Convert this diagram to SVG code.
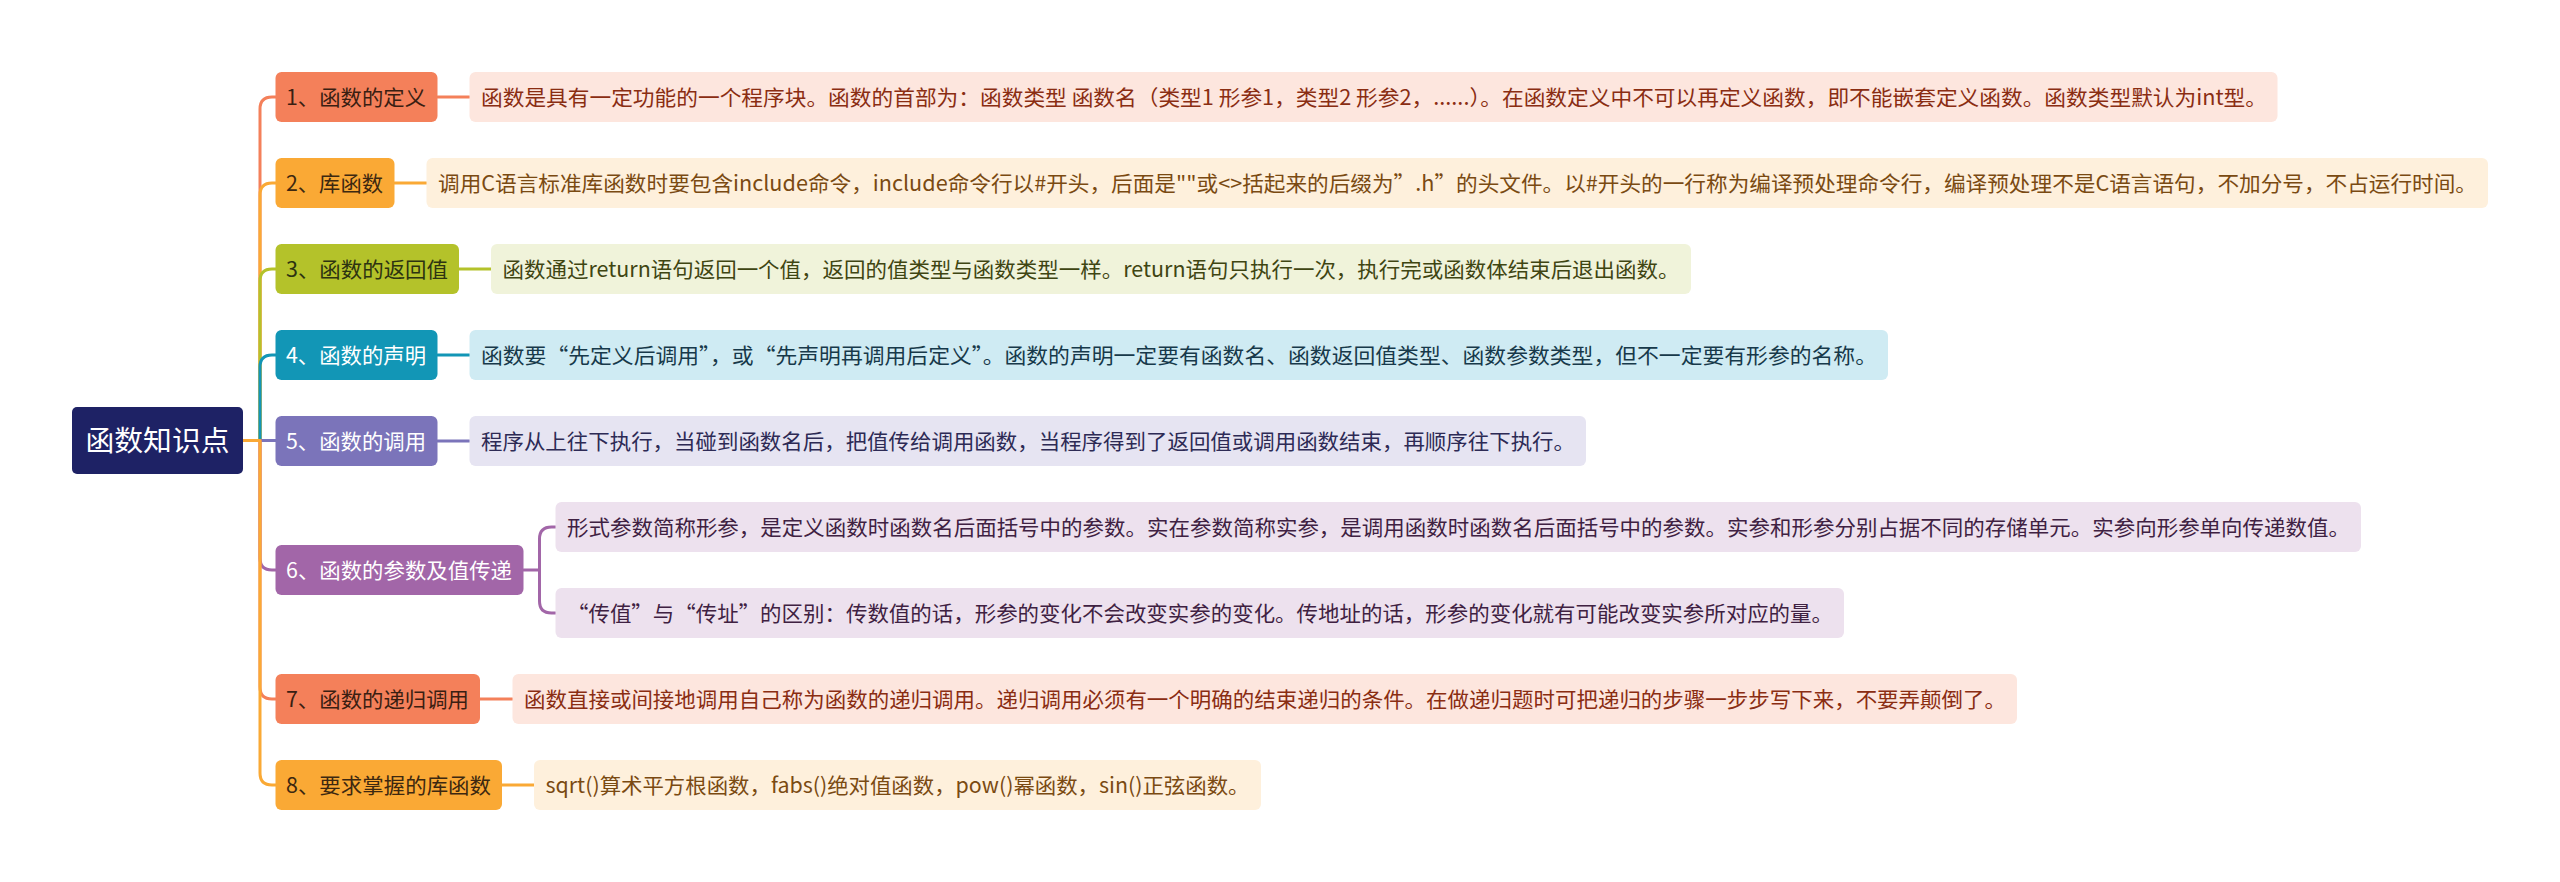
<svg xmlns="http://www.w3.org/2000/svg" width="2560" height="882" viewBox="0 0 2560 882">
<style>
.t{font-family:"Microsoft YaHei","Noto Sans CJK SC","Noto Sans",sans-serif;font-size:21px}
.root{font-family:"Microsoft YaHei","Noto Sans CJK SC","Noto Sans",sans-serif;font-size:28px;fill:#ffffff}
.ln{fill:none;stroke-width:3;stroke-linecap:round;stroke-linejoin:round}
.c1{stroke:#F4805A}.c2{stroke:#FAA935}.c3{stroke:#B4C22A}.c4{stroke:#1296B6}.c5{stroke:#7B74BA}.c6{stroke:#A266A8}
</style>
<rect width="2560" height="882" fill="#ffffff"/>
<g id="connectors">
<path class="ln c1" d="M243,440.5 H260 V109 Q260,97 272,97 H276"/>
<path class="ln c2" d="M243,440.5 H260 V195 Q260,183 272,183 H276"/>
<path class="ln c3" d="M243,440.5 H260 V281 Q260,269 272,269 H276"/>
<path class="ln c4" d="M243,440.5 H260 V367 Q260,355 272,355 H276"/>
<path class="ln c5" d="M243,440.5 H276"/>
<path class="ln c6" d="M243,440.5 H260 V558 Q260,570 272,570 H276"/>
<path class="ln c1" d="M243,440.5 H260 V687 Q260,699 272,699 H276"/>
<path class="ln c2" d="M243,440.5 H260 V773 Q260,785 272,785 H276"/>
<path class="ln c1" d="M437.5,97 H469.5"/>
<path class="ln c2" d="M394.5,183 H426.5"/>
<path class="ln c3" d="M459,269 H491"/>
<path class="ln c4" d="M437.5,355 H469.5"/>
<path class="ln c5" d="M437.5,441 H469.5"/>
<path class="ln c6" d="M523.5,570 H539.5 M555.5,527 H551.5 Q539.5,527 539.5,539 V601 Q539.5,613 551.5,613 H555.5"/>
<path class="ln c1" d="M480,699 H512.5"/>
<path class="ln c2" d="M502,785 H534"/>
</g>
<g id="root">
<rect x="72" y="407" width="171" height="67" rx="5" fill="#1E2265"/>
<text class="root" x="157.5" y="451" text-anchor="middle" textLength="144" lengthAdjust="spacingAndGlyphs">函数知识点</text>
</g>
<g id="n1">
<rect x="275.5" y="72" width="162" height="50" rx="6" fill="#F4805A"/>
<text class="t" x="286" y="105" fill="#3A1E12" textLength="140" lengthAdjust="spacingAndGlyphs">1、函数的定义</text>
</g>
<g id="d1">
<rect x="469.5" y="72" width="1808" height="50" rx="6" fill="#FDE6DE"/>
<text class="t" x="481" y="105" fill="#8A2D12" textLength="1786" lengthAdjust="spacingAndGlyphs">函数是具有一定功能的一个程序块。函数的首部为：函数类型 函数名（类型1 形参1，类型2 形参2，......）。在函数定义中不可以再定义函数，即不能嵌套定义函数。函数类型默认为int型。</text>
</g>
<g id="n2">
<rect x="275.5" y="158" width="119" height="50" rx="6" fill="#FAA935"/>
<text class="t" x="286" y="191" fill="#3D2810" textLength="97" lengthAdjust="spacingAndGlyphs">2、库函数</text>
</g>
<g id="d2">
<rect x="426.5" y="158" width="2061.5" height="50" rx="6" fill="#FEF0DC"/>
<text class="t" x="438" y="191" fill="#7A4A12" textLength="2039" lengthAdjust="spacingAndGlyphs">调用C语言标准库函数时要包含include命令，include命令行以#开头，后面是""或&lt;&gt;括起来的后缀为”.h”的头文件。以#开头的一行称为编译预处理命令行，编译预处理不是C语言语句，不加分号，不占运行时间。</text>
</g>
<g id="n3">
<rect x="275.5" y="244" width="183.5" height="50" rx="6" fill="#B4C22A"/>
<text class="t" x="286" y="277" fill="#2D3311" textLength="162" lengthAdjust="spacingAndGlyphs">3、函数的返回值</text>
</g>
<g id="d3">
<rect x="491" y="244" width="1200" height="50" rx="6" fill="#F0F3DA"/>
<text class="t" x="502.5" y="277" fill="#3F4512" textLength="1177" lengthAdjust="spacingAndGlyphs">函数通过return语句返回一个值，返回的值类型与函数类型一样。return语句只执行一次，执行完或函数体结束后退出函数。</text>
</g>
<g id="n4">
<rect x="275.5" y="330" width="162" height="50" rx="6" fill="#1296B6"/>
<text class="t" x="286" y="363" fill="#ffffff" textLength="140" lengthAdjust="spacingAndGlyphs">4、函数的声明</text>
</g>
<g id="d4">
<rect x="469.5" y="330" width="1418.5" height="50" rx="6" fill="#CFEBF3"/>
<text class="t" x="481" y="363" fill="#17394A" textLength="1396" lengthAdjust="spacingAndGlyphs">函数要“先定义后调用”，或“先声明再调用后定义”。函数的声明一定要有函数名、函数返回值类型、函数参数类型，但不一定要有形参的名称。</text>
</g>
<g id="n5">
<rect x="275.5" y="416" width="162" height="50" rx="6" fill="#7B74BA"/>
<text class="t" x="286" y="449" fill="#ffffff" textLength="140" lengthAdjust="spacingAndGlyphs">5、函数的调用</text>
</g>
<g id="d5">
<rect x="469.5" y="416" width="1116.5" height="50" rx="6" fill="#E6E4F2"/>
<text class="t" x="481" y="449" fill="#2D2A55" textLength="1094" lengthAdjust="spacingAndGlyphs">程序从上往下执行，当碰到函数名后，把值传给调用函数，当程序得到了返回值或调用函数结束，再顺序往下执行。</text>
</g>
<g id="n6">
<rect x="275.5" y="545" width="248" height="50" rx="6" fill="#A266A8"/>
<text class="t" x="286" y="578" fill="#ffffff" textLength="226" lengthAdjust="spacingAndGlyphs">6、函数的参数及值传递</text>
</g>
<g id="d6a">
<rect x="555.5" y="502" width="1805.5" height="50" rx="6" fill="#EDE1EE"/>
<text class="t" x="567" y="535" fill="#3F2142" textLength="1783" lengthAdjust="spacingAndGlyphs">形式参数简称形参，是定义函数时函数名后面括号中的参数。实在参数简称实参，是调用函数时函数名后面括号中的参数。实参和形参分别占据不同的存储单元。实参向形参单向传递数值。</text>
</g>
<g id="d6b">
<rect x="555.5" y="588" width="1288.5" height="50" rx="6" fill="#EDE1EE"/>
<text class="t" x="567" y="621" fill="#3F2142" textLength="1266" lengthAdjust="spacingAndGlyphs">“传值”与“传址”的区别：传数值的话，形参的变化不会改变实参的变化。传地址的话，形参的变化就有可能改变实参所对应的量。</text>
</g>
<g id="n7">
<rect x="275.5" y="674" width="204.5" height="50" rx="6" fill="#F4805A"/>
<text class="t" x="286" y="707" fill="#3A1E12" textLength="183" lengthAdjust="spacingAndGlyphs">7、函数的递归调用</text>
</g>
<g id="d7">
<rect x="512.5" y="674" width="1504.5" height="50" rx="6" fill="#FDE6DE"/>
<text class="t" x="524" y="707" fill="#8A2D12" textLength="1482" lengthAdjust="spacingAndGlyphs">函数直接或间接地调用自己称为函数的递归调用。递归调用必须有一个明确的结束递归的条件。在做递归题时可把递归的步骤一步步写下来，不要弄颠倒了。</text>
</g>
<g id="n8">
<rect x="275.5" y="760" width="226.5" height="50" rx="6" fill="#FAA935"/>
<text class="t" x="286" y="793" fill="#3D2810" textLength="205" lengthAdjust="spacingAndGlyphs">8、要求掌握的库函数</text>
</g>
<g id="d8">
<rect x="534" y="760" width="727" height="50" rx="6" fill="#FEF0DC"/>
<text class="t" x="545.5" y="793" fill="#7A4A12" textLength="704" lengthAdjust="spacingAndGlyphs">sqrt()算术平方根函数，fabs()绝对值函数，pow()幂函数，sin()正弦函数。</text>
</g>
</svg>
